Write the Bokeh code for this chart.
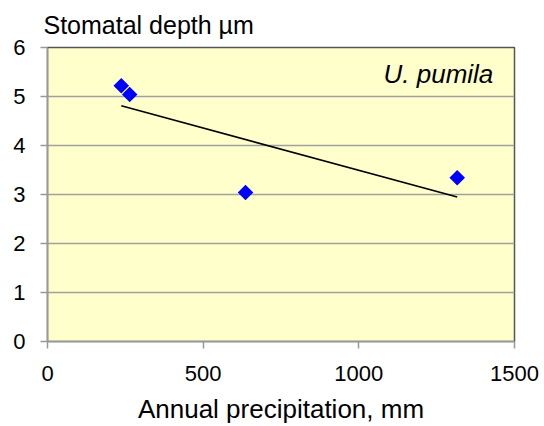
import numpy as np
from bokeh.plotting import figure
from bokeh.models import Range1d, FixedTicker, Label, ColumnDataSource
from bokeh.embed import file_html
from bokeh.resources import INLINE

# Data
precip = [237, 264, 636, 1316]
depth = [5.22, 5.04, 3.04, 3.34]
x_ticks = [0, 500, 1000, 1500]
y_ticks = [0, 1, 2, 3, 4, 5, 6]
species = "U. pumila"
title_text = "Stomatal depth µm"
x_label = "Annual precipitation, mm"

p = figure(width=544, height=426, output_backend="svg", toolbar_location=None,
           x_range=Range1d(0, 1500), y_range=Range1d(0, 6),
           min_border_left=47, min_border_right=30, min_border_top=47, min_border_bottom=85)

p.title.text = title_text
p.title.align = "left"
p.title.offset = -4
p.title.standoff = 17
p.title.text_font = "Liberation Sans"
p.title.text_font_size = "25px"
p.title.text_font_style = "normal"
p.title.text_color = "black"

p.background_fill_color = "#FFFFCC"
p.border_fill_color = "white"
p.outline_line_color = "#555555"
p.outline_line_width = 1.5

p.xgrid.grid_line_color = None
p.ygrid.grid_line_color = "#A0A0A0"
p.ygrid.grid_line_width = 1.5

p.xaxis.ticker = FixedTicker(ticks=x_ticks)
p.yaxis.ticker = FixedTicker(ticks=y_ticks)
for ax in (p.xaxis[0], p.yaxis[0]):
    ax.axis_line_color = "#999999"
    ax.axis_line_width = 1.5
    ax.major_tick_line_color = "#999999"
    ax.major_tick_line_width = 1.5
    ax.major_tick_out = 7
    ax.major_tick_in = 0
    ax.minor_tick_line_color = None
    ax.major_label_text_font = "Liberation Sans"
    ax.major_label_text_font_size = "22px"
    ax.major_label_text_color = "black"
p.yaxis.major_label_standoff = 15
p.xaxis.major_label_standoff = 17

p.xaxis.axis_label = x_label
p.xaxis.axis_label_text_font = "Liberation Sans"
p.xaxis.axis_label_text_font_size = "26px"
p.xaxis.axis_label_text_font_style = "normal"
p.xaxis.axis_label_text_color = "black"
p.xaxis.axis_label_standoff = 10

# Trend line (least squares)
slope, intercept = np.polyfit(precip, depth, 1)
xs = [min(precip), max(precip)]
ys = [slope * x + intercept for x in xs]
p.line(xs, ys, line_color="black", line_width=1.6)

src = ColumnDataSource(dict(x=precip, y=depth))
p.scatter("x", "y", source=src, marker="square", size=11, angle=np.pi / 4,
          fill_color="#0000FF", line_color=None)

lab = Label(x=1432, y=5.45, text=species, text_align="right", text_baseline="alphabetic",
            text_font="Liberation Sans", text_font_size="26px", text_font_style="italic",
            text_color="black")
p.add_layout(lab)

open("out.html", "w").write(file_html(p, INLINE))
